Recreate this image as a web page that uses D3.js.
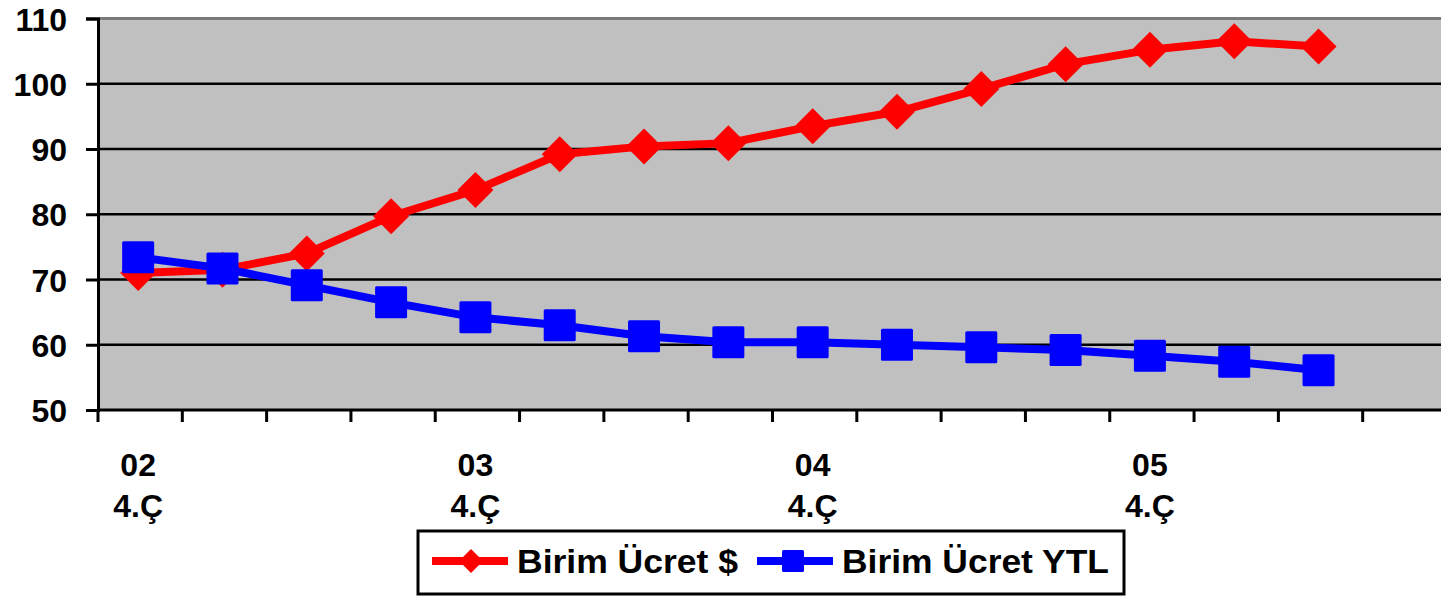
<!DOCTYPE html>
<html>
<head>
<meta charset="utf-8">
<script src="https://cdn.jsdelivr.net/npm/d3@7"></script>
<style>
  html, body { margin: 0; padding: 0; background: #fff; }
  svg { display: block; font-family: "Liberation Sans", Arial, sans-serif; font-weight: bold; }
</style>
</head>
<body>
<svg id="chart" width="1441" height="596"></svg>
<script>
// Quarterly categories (16 slots, last one empty)
const categories = ["02 4.Ç","03 1.Ç","03 2.Ç","03 3.Ç","03 4.Ç","04 1.Ç","04 2.Ç","04 3.Ç",
                    "04 4.Ç","05 1.Ç","05 2.Ç","05 3.Ç","05 4.Ç","06 1.Ç","06 2.Ç","06 3.Ç"];
// Which category labels are shown on the axis
const shownLabels = ["02 4.Ç","03 4.Ç","04 4.Ç","05 4.Ç"];
const seriesNames = ["Birim Ücret $", "Birim Ücret YTL"];
const usdValues = [71.0, 71.5, 74.0, 79.7, 83.7, 89.2, 90.4, 90.9, 93.5, 95.7, 99.2, 103.0, 105.2, 106.5, 105.7];
const ytlValues = [73.4, 71.7, 69.1, 66.5, 64.2, 63.0, 61.3, 60.4, 60.4, 60.0, 59.6, 59.2, 58.3, 57.4, 56.1];
const yTicks = [50, 60, 70, 80, 90, 100, 110];

const svg = d3.select("#chart");
const L = 98, T = 18.5, B = 410, R = 1447;

const x = d3.scaleBand().domain(categories).range([L, R]).padding(0);
const y = d3.scaleLinear().domain([50, 110]).range([B, T]);

// plot background
svg.append("rect").attr("x", L).attr("y", T).attr("width", R - L).attr("height", B - T).attr("fill", "#c0c0c0");

// gridlines
svg.append("g").selectAll("line").data(yTicks.filter(d => d > 50 && d < 110)).join("line")
  .attr("x1", L).attr("x2", R).attr("y1", d => y(d)).attr("y2", d => y(d))
  .attr("stroke", "#000").attr("stroke-width", 2.5);
// top border
svg.append("line").attr("x1", L).attr("x2", R).attr("y1", y(110)).attr("y2", y(110))
  .attr("stroke", "#7a7a7a").attr("stroke-width", 3);

// y axis
const yAxis = d3.axisLeft(y).tickValues(yTicks).tickSize(12).tickPadding(19);
const gy = svg.append("g").attr("transform", `translate(${L},0)`).call(yAxis);
gy.select(".domain").attr("stroke", "#000").attr("stroke-width", 3);
gy.selectAll(".tick line").attr("stroke", "#000").attr("stroke-width", 3);
gy.selectAll(".tick text").attr("font-size", 32).attr("font-family", "Liberation Sans, Arial, sans-serif")
  .attr("font-weight", "bold").attr("fill", "#000").attr("dy", "0.36em");

// x axis: ticks at band boundaries
const xAxisG = svg.append("g");
xAxisG.append("line").attr("x1", L).attr("x2", R).attr("y1", B).attr("y2", B)
  .attr("stroke", "#000").attr("stroke-width", 3);
xAxisG.selectAll("line.tk").data(categories).join("line").attr("class", "tk")
  .attr("x1", d => x(d)).attr("x2", d => x(d)).attr("y1", B).attr("y2", B + 12)
  .attr("stroke", "#000").attr("stroke-width", 3);
const lbl = xAxisG.selectAll("text").data(shownLabels).join("text")
  .attr("text-anchor", "middle").attr("font-size", 32).attr("fill", "#000");
lbl.each(function(d) {
  const parts = d.split(" ");
  const cx = x(d) + x.bandwidth() / 2 - 2;
  d3.select(this).selectAll("tspan").data(parts).join("tspan")
    .attr("x", cx).attr("y", (p, i) => 476 + i * 41).text(p => p);
});

// lines
const line = d3.line().x((d, i) => x(categories[i]) + x.bandwidth() / 2 - 2).y(d => y(d));

svg.append("path").datum(usdValues).attr("d", line).attr("fill", "none")
  .attr("stroke", "#ff0000").attr("stroke-width", 8).attr("stroke-linejoin", "round");
const dsz = 18;
svg.append("g").selectAll("path").data(usdValues).join("path")
  .attr("transform", (d, i) => `translate(${x(categories[i]) + x.bandwidth() / 2 - 2},${y(d)})`)
  .attr("d", `M0,${-dsz}L${dsz},0L0,${dsz}L${-dsz},0Z`).attr("fill", "#ff0000");

svg.append("path").datum(ytlValues).attr("d", line).attr("fill", "none")
  .attr("stroke", "#0000ff").attr("stroke-width", 8).attr("stroke-linejoin", "round");
const ssz = 16;
svg.append("g").selectAll("rect").data(ytlValues).join("rect")
  .attr("x", (d, i) => x(categories[i]) + x.bandwidth() / 2 - 2 - ssz)
  .attr("y", d => y(d) - ssz).attr("width", 2 * ssz).attr("height", 2 * ssz)
  .attr("rx", 1.5).attr("fill", "#0000ff");

// legend
const lg = svg.append("g");
lg.append("rect").attr("x", 418).attr("y", 531).attr("width", 706).attr("height", 63)
  .attr("fill", "#fff").attr("stroke", "#000").attr("stroke-width", 3);
const ly = 561;
// series 1
lg.append("line").attr("x1", 432).attr("x2", 508).attr("y1", ly).attr("y2", ly)
  .attr("stroke", "#ff0000").attr("stroke-width", 8);
lg.append("path").attr("transform", `translate(471,${ly})`).attr("d", "M0,-12L12,0L0,12L-12,0Z").attr("fill", "#ff0000");
lg.append("text").attr("x", 517).attr("y", ly + 12).attr("font-size", 33).attr("fill", "#000")
  .attr("textLength", 221).attr("lengthAdjust", "spacingAndGlyphs").text(seriesNames[0]);
// series 2
lg.append("line").attr("x1", 757).attr("x2", 833).attr("y1", ly).attr("y2", ly)
  .attr("stroke", "#0000ff").attr("stroke-width", 8);
lg.append("rect").attr("x", 793 - 11).attr("y", ly - 11).attr("width", 22).attr("height", 22).attr("rx", 1.5).attr("fill", "#0000ff");
lg.append("text").attr("x", 842).attr("y", ly + 12).attr("font-size", 33).attr("fill", "#000")
  .attr("textLength", 267).attr("lengthAdjust", "spacingAndGlyphs").text(seriesNames[1]);
</script>
</body>
</html>
